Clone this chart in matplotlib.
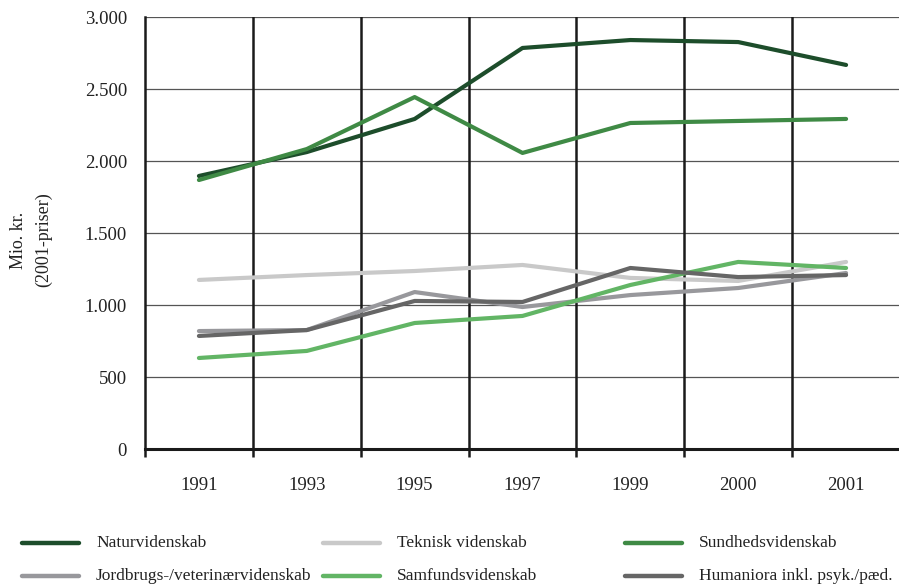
import numpy as np
import matplotlib.pyplot as plt
from matplotlib.lines import Line2D

plt.rcParams['font.family'] = ['Liberation Serif', 'DejaVu Serif']

# Data
aar = ["1991", "1993", "1995", "1997", "1999", "2000", "2001"]
naturvidenskab = [1896, 2062, 2292, 2785, 2840, 2826, 2667]
teknisk = [1174, 1208, 1236, 1278, 1188, 1167, 1299]
sundhed = [1868, 2083, 2444, 2056, 2264, 2278, 2292]
jordbrug = [819, 826, 1090, 986, 1069, 1118, 1222]
samfund = [632, 681, 875, 924, 1139, 1299, 1257]
humaniora = [785, 826, 1028, 1021, 1257, 1194, 1208]

serier = [
    ("Naturvidenskab", naturvidenskab, "#1d4d2b"),
    ("Teknisk videnskab", teknisk, "#c9c9c9"),
    ("Sundhedsvidenskab", sundhed, "#3f8a45"),
    ("Jordbrugs-/veterinærvidenskab", jordbrug, "#98989c"),
    ("Samfundsvidenskab", samfund, "#62b565"),
    ("Humaniora inkl. psyk./pæd.", humaniora, "#666666"),
]

fig = plt.figure(figsize=(8.99, 5.85), dpi=100)
ax = fig.add_axes([145/899, 1 - 449/585, 755/899, 432/585])

x = np.arange(len(aar))

# Gitter
for v in range(500, 3001, 500):
    ax.axhline(v, color="#555555", lw=0.9, zorder=1)
for b in np.arange(0.5, len(aar) - 1, 1.0):
    ax.axvline(b, color="#1a1a1a", lw=1.8, zorder=1)

for navn, vaerdier, farve in serier:
    ax.plot(x, vaerdier, color=farve, lw=3, solid_capstyle="round",
            solid_joinstyle="round", zorder=3)

ax.set_xlim(-0.5, len(aar) - 0.5)
ax.set_ylim(0, 3000)
ax.set_yticks(range(0, 3001, 500))
ax.set_yticklabels([f"{v:,}".replace(",", ".") for v in range(0, 3001, 500)])
ax.set_xticks(x)
ax.set_xticklabels(aar)
ax.tick_params(axis="x", length=0, pad=20, labelsize=13.5, colors="#222222")
ax.tick_params(axis="y", length=0, pad=13, labelsize=13.5, colors="#222222")
ax.set_xticks(np.arange(-0.5, len(aar) - 1, 1.0), minor=True)
ax.tick_params(axis="x", which="minor", length=6, width=1.8, color="#1a1a1a")

for s in ["top", "right"]:
    ax.spines[s].set_visible(False)
ax.spines["left"].set_linewidth(1.8)
ax.spines["left"].set_color("#1a1a1a")
ax.spines["bottom"].set_linewidth(2.2)
ax.spines["bottom"].set_color("#1a1a1a")

fig.text(31/899, 1 - 240/585, "Mio. kr.\n(2001-priser)", rotation=90,
         ha="center", va="center", fontsize=13, color="#222222",
         linespacing=1.6)

# Forklaring
kolonner = [22, 323, 625]
raekker = [543, 576]
for i, (navn, vaerdier, farve) in enumerate(serier):
    k = kolonner[i % 3]
    r = raekker[i // 3]
    fig.add_artist(Line2D([k/899, (k + 57)/899], [1 - r/585, 1 - r/585],
                          color=farve, lw=3.2, solid_capstyle="round"))
    fig.text((k + 74)/899, 1 - r/585, navn, ha="left", va="center",
             fontsize=12.5, color="#222222")

fig.savefig("out.png", dpi=100)
